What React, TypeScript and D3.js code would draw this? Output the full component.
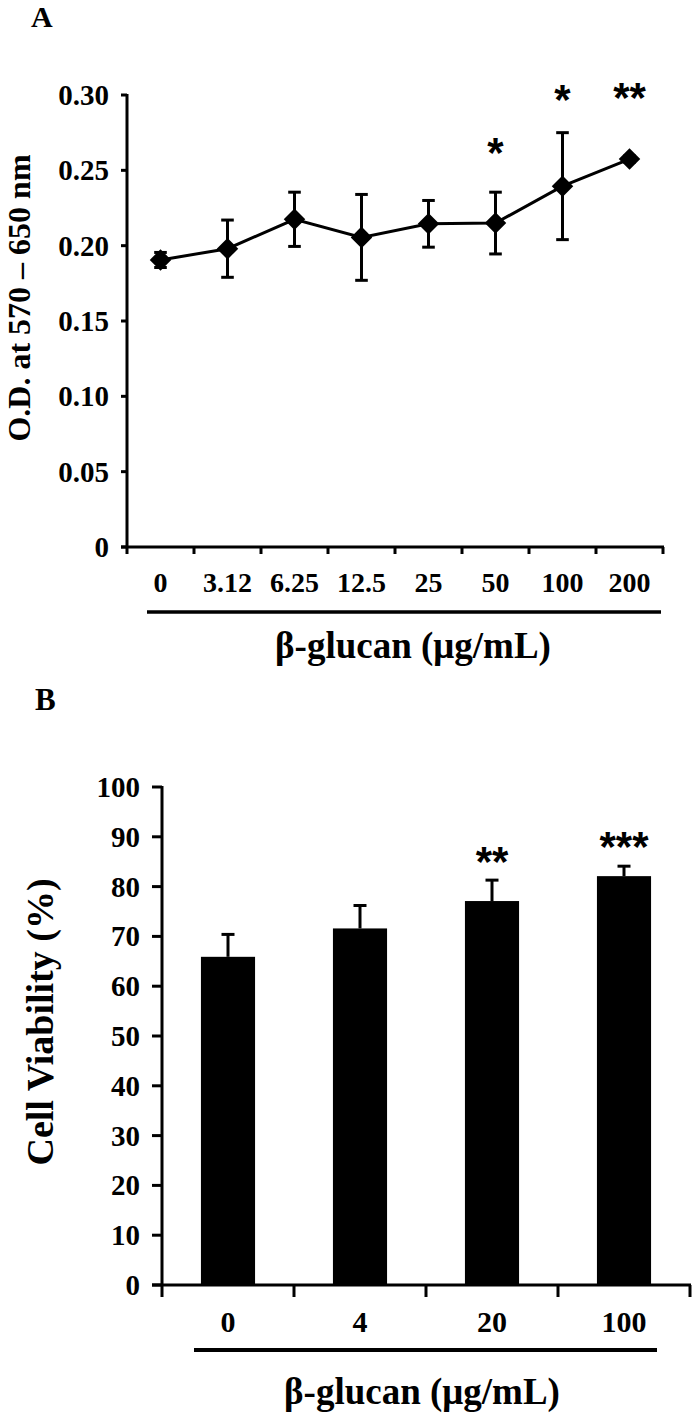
import * as d3 from "d3";

// panel A: O.D. vs beta-glucan dose
const doseA = ["0", "3.12", "6.25", "12.5", "25", "50", "100", "200"];
const odMean = [0.1905, 0.198, 0.2175, 0.2055, 0.2145, 0.215, 0.2395, 0.2575];
const odErr = [0.005, 0.019, 0.018, 0.0285, 0.0155, 0.0205, 0.0355, 0.002];
const yTicksA = [0, 0.05, 0.1, 0.15, 0.2, 0.25, 0.3];
const yTickLabelsA = ["0", "0.05", "0.10", "0.15", "0.20", "0.25", "0.30"];
const starsA = [
  { dose: "50", mark: "*", at: 0.268 },
  { dose: "100", mark: "*", at: 0.3033 },
  { dose: "200", mark: "**", at: 0.3046 },
];

// panel B: cell viability
const doseB = ["0", "4", "20", "100"];
const viability = [65.9, 71.6, 77.1, 82.1];
const viabilityErr = [4.5, 4.6, 4.2, 2.0];
const yTicksB = [0, 10, 20, 30, 40, 50, 60, 70, 80, 90, 100];
const starsB = [
  { dose: "20", mark: "**", at: 86.9 },
  { dose: "100", mark: "***", at: 89.8 },
];

const serif = "'Liberation Serif', 'Times New Roman', serif";
const sans = "'Liberation Sans', Arial, sans-serif";
const starSize = 42;

export default function App() {
  const width = 692;
  const height = 1415;

  // ---- A ----
  const xA = d3.scaleBand().domain(doseA).range([127, 663]);
  const yA = d3.scaleLinear().domain([0, 0.3]).range([547, 95]);
  const cxA = (d) => xA(d) + xA.bandwidth() / 2;
  const line = d3
    .line()
    .x((d, i) => cxA(doseA[i]))
    .y((d) => yA(d));
  const diamond = d3.symbol().type(d3.symbolSquare).size(232)();
  const capA = 6.3;

  // ---- B ----
  const xB = d3.scaleBand().domain(doseB).range([162, 690]);
  const yB = d3.scaleLinear().domain([0, 100]).range([1285, 787]);
  const cxB = (d) => xB(d) + xB.bandwidth() / 2;
  const barW = xB.bandwidth() * 0.41;
  const capB = 6.5;

  return (
    <svg
      width={width}
      height={height}
      style={{ position: "absolute", left: 0, top: 0, background: "#fff" }}
    >
      {/* ================= A ================= */}
      <text x={31} y={27} fontFamily={serif} fontWeight="bold" fontSize={30}>
        A
      </text>

      {/* y axis */}
      <line x1={127} x2={127} y1={yA(0.3) - 1} y2={554} stroke="#000" strokeWidth={3} />
      {yTicksA.map((t, i) => (
        <g key={t}>
          <line x1={121} x2={127} y1={yA(t)} y2={yA(t)} stroke="#000" strokeWidth={3} />
          <text
            x={109}
            y={yA(t) + 10}
            textAnchor="end"
            fontFamily={serif}
            fontWeight="bold"
            fontSize={29}
          >
            {yTickLabelsA[i]}
          </text>
        </g>
      ))}
      <text
        transform={`translate(30,298) rotate(-90)`}
        textAnchor="middle"
        fontFamily={serif}
        fontWeight="bold"
        fontSize={32}
      >
        O.D. at 570 – 650 nm
      </text>

      {/* x axis */}
      <line x1={121} x2={664} y1={547} y2={547} stroke="#000" strokeWidth={3} />
      {[...doseA.map((d) => xA(d)), 663].slice(1).map((x, i) => (
        <line key={i} x1={x} x2={x} y1={547} y2={554} stroke="#000" strokeWidth={3} />
      ))}
      {doseA.map((d) => (
        <text
          key={d}
          x={cxA(d)}
          y={592}
          textAnchor="middle"
          fontFamily={serif}
          fontWeight="bold"
          fontSize={28}
        >
          {d}
        </text>
      ))}
      <line x1={147} x2={661} y1={612} y2={612} stroke="#000" strokeWidth={3.5} />
      <text
        x={413}
        y={658}
        textAnchor="middle"
        fontFamily={serif}
        fontWeight="bold"
        fontSize={37}
      >
        β-glucan (μg/mL)
      </text>

      {/* error bars */}
      {doseA.map((d, i) => {
        const x = cxA(d);
        const lo = yA(odMean[i] - odErr[i]);
        const hi = yA(odMean[i] + odErr[i]);
        return (
          <g key={d} stroke="#000" strokeWidth={3}>
            <line x1={x} x2={x} y1={lo} y2={hi} />
            <line x1={x - capA} x2={x + capA} y1={lo} y2={lo} />
            <line x1={x - capA} x2={x + capA} y1={hi} y2={hi} />
          </g>
        );
      })}
      <path d={line(odMean)} fill="none" stroke="#000" strokeWidth={3} />
      {doseA.map((d, i) => (
        <path
          key={d}
          d={diamond}
          transform={`translate(${cxA(d)},${yA(odMean[i])}) rotate(45)`}
          fill="#000"
        />
      ))}
      {starsA.map((s) => (
        <text
          key={s.dose}
          x={cxA(s.dose)}
          y={yA(s.at) + starSize * 0.56}
          textAnchor="middle"
          fontFamily={sans}
          fontWeight="bold"
          fontSize={starSize}
        >
          {s.mark}
        </text>
      ))}

      {/* ================= B ================= */}
      <text x={35} y={710} fontFamily={serif} fontWeight="bold" fontSize={31}>
        B
      </text>

      {yTicksB.map((t) => (
        <g key={t}>
          <line x1={152} x2={162} y1={yB(t)} y2={yB(t)} stroke="#000" strokeWidth={3} />
          <text
            x={140}
            y={yB(t) + 10}
            textAnchor="end"
            fontFamily={serif}
            fontWeight="bold"
            fontSize={29}
          >
            {t}
          </text>
        </g>
      ))}
      <text
        transform={`translate(53,1022) rotate(-90)`}
        textAnchor="middle"
        fontFamily={serif}
        fontWeight="bold"
        fontSize={38}
      >
        Cell Viability (%)
      </text>

      {/* bars */}
      {doseB.map((d, i) => (
        <rect
          key={d}
          x={cxB(d) - barW / 2}
          y={yB(viability[i])}
          width={barW}
          height={yB(0) - yB(viability[i])}
          fill="#000"
        />
      ))}
      {doseB.map((d, i) => {
        const x = cxB(d);
        const top = yB(viability[i]);
        const hi = yB(viability[i] + viabilityErr[i]);
        return (
          <g key={d} stroke="#000" strokeWidth={3}>
            <line x1={x} x2={x} y1={top} y2={hi} />
            <line x1={x - capB} x2={x + capB} y1={hi} y2={hi} />
          </g>
        );
      })}

      {/* axes */}
      <line x1={162} x2={162} y1={yB(100) - 1} y2={1297} stroke="#000" strokeWidth={3} />
      <line x1={152} x2={691} y1={1285} y2={1285} stroke="#000" strokeWidth={3} />
      {[...doseB.map((d) => xB(d)), 690].slice(1).map((x, i) => (
        <line key={i} x1={x} x2={x} y1={1285} y2={1297} stroke="#000" strokeWidth={3} />
      ))}
      {doseB.map((d) => (
        <text
          key={d}
          x={cxB(d)}
          y={1332}
          textAnchor="middle"
          fontFamily={serif}
          fontWeight="bold"
          fontSize={30}
        >
          {d}
        </text>
      ))}
      <line x1={194} x2={657} y1={1350} y2={1350} stroke="#000" strokeWidth={4} />
      <text
        x={422}
        y={1404}
        textAnchor="middle"
        fontFamily={serif}
        fontWeight="bold"
        fontSize={37}
      >
        β-glucan (μg/mL)
      </text>

      {starsB.map((s) => (
        <text
          key={s.dose}
          x={cxB(s.dose)}
          y={yB(s.at) + starSize * 0.56}
          textAnchor="middle"
          fontFamily={sans}
          fontWeight="bold"
          fontSize={starSize}
        >
          {s.mark}
        </text>
      ))}
    </svg>
  );
}
